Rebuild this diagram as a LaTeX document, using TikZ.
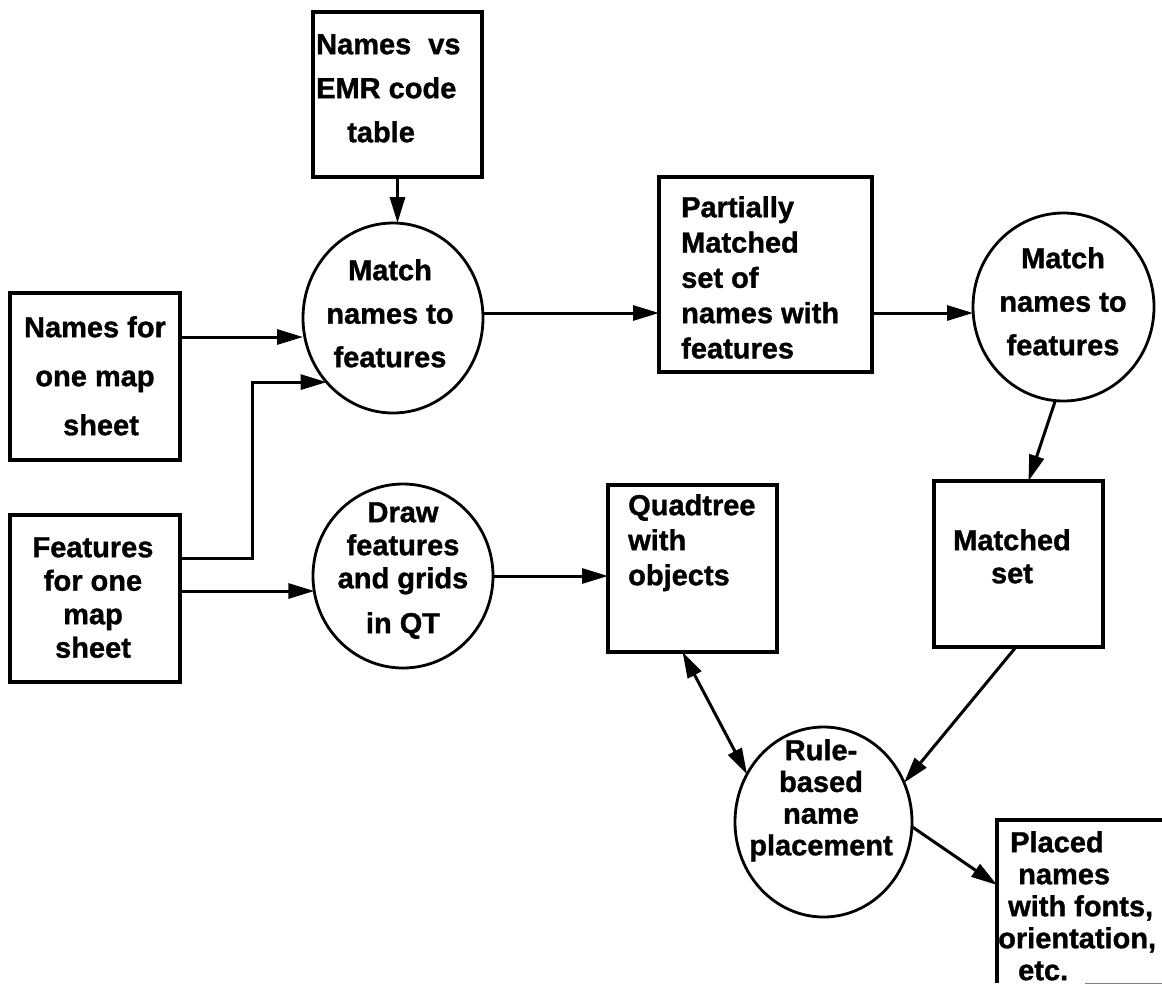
\documentclass[tikz,border=0pt]{standalone}
\usepackage{fontspec}
\setmainfont{Liberation Sans}[BoldFeatures={FakeBold=1.2}]
\usetikzlibrary{shapes.geometric,arrows.meta,calc}
% label font: bold sans, 29pt, with a given line spacing
\newcommand\setlbl[1]{\bfseries\fontsize{29pt}{#1}\selectfont}
% fixes the height of a block's first line
\newcommand\topstrut{\rule{0pt}{22pt}}
\begin{document}
\begin{tikzpicture}[x=1pt,y=-1pt,
  box/.style={draw, rectangle, line width=3.4pt, inner sep=0pt, outer sep=0pt},
  bubble/.style={draw, ellipse, line width=2.8pt, inner sep=0pt, outer sep=0pt},
  flow/.style={line width=3pt, -{Triangle[length=26pt,width=15pt]}},
  twoway/.style={line width=3pt, {Triangle[length=26pt,width=15pt]}-{Triangle[length=26pt,width=15pt]}},
  lbl/.style={inner sep=0pt, anchor=north}]
\useasboundingbox (0,0) rectangle (1162,985);
\clip (0,0) rectangle (1162,985);
\fill[white] (0,0) rectangle (1162,985);

% data stores
\node[box, minimum width=169pt, minimum height=165pt] (emr) at (397.5,94.5) {};
\node[box, minimum width=170pt, minimum height=167pt] (names) at (95,376.5) {};
\node[box, minimum width=170pt, minimum height=167pt] (feat) at (95,598.5) {};
\node[box, minimum width=213pt, minimum height=195pt] (partial) at (765.5,274.5) {};
\node[box, minimum width=169pt, minimum height=167pt] (quad) at (692.5,568.5) {};
\node[box, minimum width=169pt, minimum height=166pt] (matched) at (1018.5,564) {};
\node[rectangle, inner sep=0pt, outer sep=0pt, minimum width=220pt, minimum height=163pt, anchor=north west] (placed) at (997,820) {};
\draw[line width=3.4pt] (placed.south west) -- (placed.north west) -- (placed.north east);
\draw[gray, line width=1pt] ($(placed.south west)+(88,0)$) -- (placed.south east);

% processes
\node[bubble, minimum width=180pt, minimum height=190pt] (c1) at (393,318) {};
\node[bubble, minimum width=180pt, minimum height=184pt] (c2) at (403,576) {};
\node[bubble, minimum width=181pt, minimum height=188pt] (c3) at (1063.5,307) {};
\node[bubble, minimum width=177pt, minimum height=190pt] (rule) at (823.5,822) {};

% labels
\node[lbl, anchor=north west, align=left, font=\setlbl{44pt}] (emrtext) at (316,32)
  {\topstrut Names\hspace*{17pt}vs\\EMR code\\\hspace*{31pt}table};
\node[lbl, align=center, font=\setlbl{49pt}] (namestext) at (95,315)
  {\topstrut Names for\\one map\\\hspace*{12pt}sheet};
\node[lbl, align=center, font=\setlbl{33.5pt}] (feattext) at (93,535)
  {\topstrut Features\\for one\\map\\sheet};
\node[lbl, align=center, font=\setlbl{43.5pt}] (c1text) at (390,258)
  {\topstrut Match\\names to\\features};
\node[lbl, align=center, font=\setlbl{33pt}] (c2text) at (403,500)
  {\topstrut Draw\\features\\and grids\\[12pt]in QT};
\node[lbl, anchor=north west, align=left, font=\setlbl{35pt}] (quadtext) at (628,493)
  {\topstrut Quadtree\\with\\objects};
\node[lbl, anchor=north west, align=left, font=\setlbl{35.3pt}] (partialtext) at (681,195)
  {\topstrut Partially\\Matched\\set of\\names with\\features};
\node[lbl, align=center, font=\setlbl{43.5pt}] (c3text) at (1063,246)
  {\topstrut Match\\names to\\features};
\node[lbl, align=center, font=\setlbl{33pt}] (matchedtext) at (1012,528)
  {\topstrut Matched\\set};
\node[lbl, align=center, font=\setlbl{31.7pt}] (ruletext) at (821,738)
  {\topstrut Rule-\\based\\name\\placement};
\node[lbl, anchor=north west, align=left, font=\setlbl{32pt}] (placedtext) at (998,830)
  {\hspace*{12pt}\topstrut Placed\\\hspace*{20pt}names\\\hspace*{10pt}with fonts,\\orientation,\\\hspace*{20pt}etc.};

% connector end points on box sides
\coordinate (nOut) at ($(names.east)+(0,-39.5)$);
\coordinate (fUp)  at ($(feat.east)+(0,-40.5)$);
\coordinate (fOut) at ($(feat.east)+(0,-7.5)$);
\coordinate (pIn)  at ($(partial.west)+(0,38.5)$);
\coordinate (pOut) at ($(partial.east)+(0,38.5)$);

% flows
\draw[flow] (emr.south) -- (emr.south |- c1.north);
\draw[flow] (nOut) -- (nOut -| c1.west);
\draw[flow] (fUp) -- ++(72,0) |- (c1.224);
\draw[flow] (fOut) -- (fOut -| c2.190);
\draw[flow] (c1.east |- pIn) -- (pIn);
\draw[flow] (pOut) -- (pOut -| c3.west);
\draw[flow] (c3.265) -- ($(matched.north)+(10,0)$);
\draw[flow] (c2.east) -- (c2.east -| quad.west);
\draw[flow] ($(matched.south)+(-2.5,0)$) -- (rule.26);
\draw[twoway] ($(quad.south)+(-10,0)$) -- (rule.148);
\draw[flow] (rule.-3) -- ($(placed.north west)+(0,65)$);
\end{tikzpicture}
\end{document}
